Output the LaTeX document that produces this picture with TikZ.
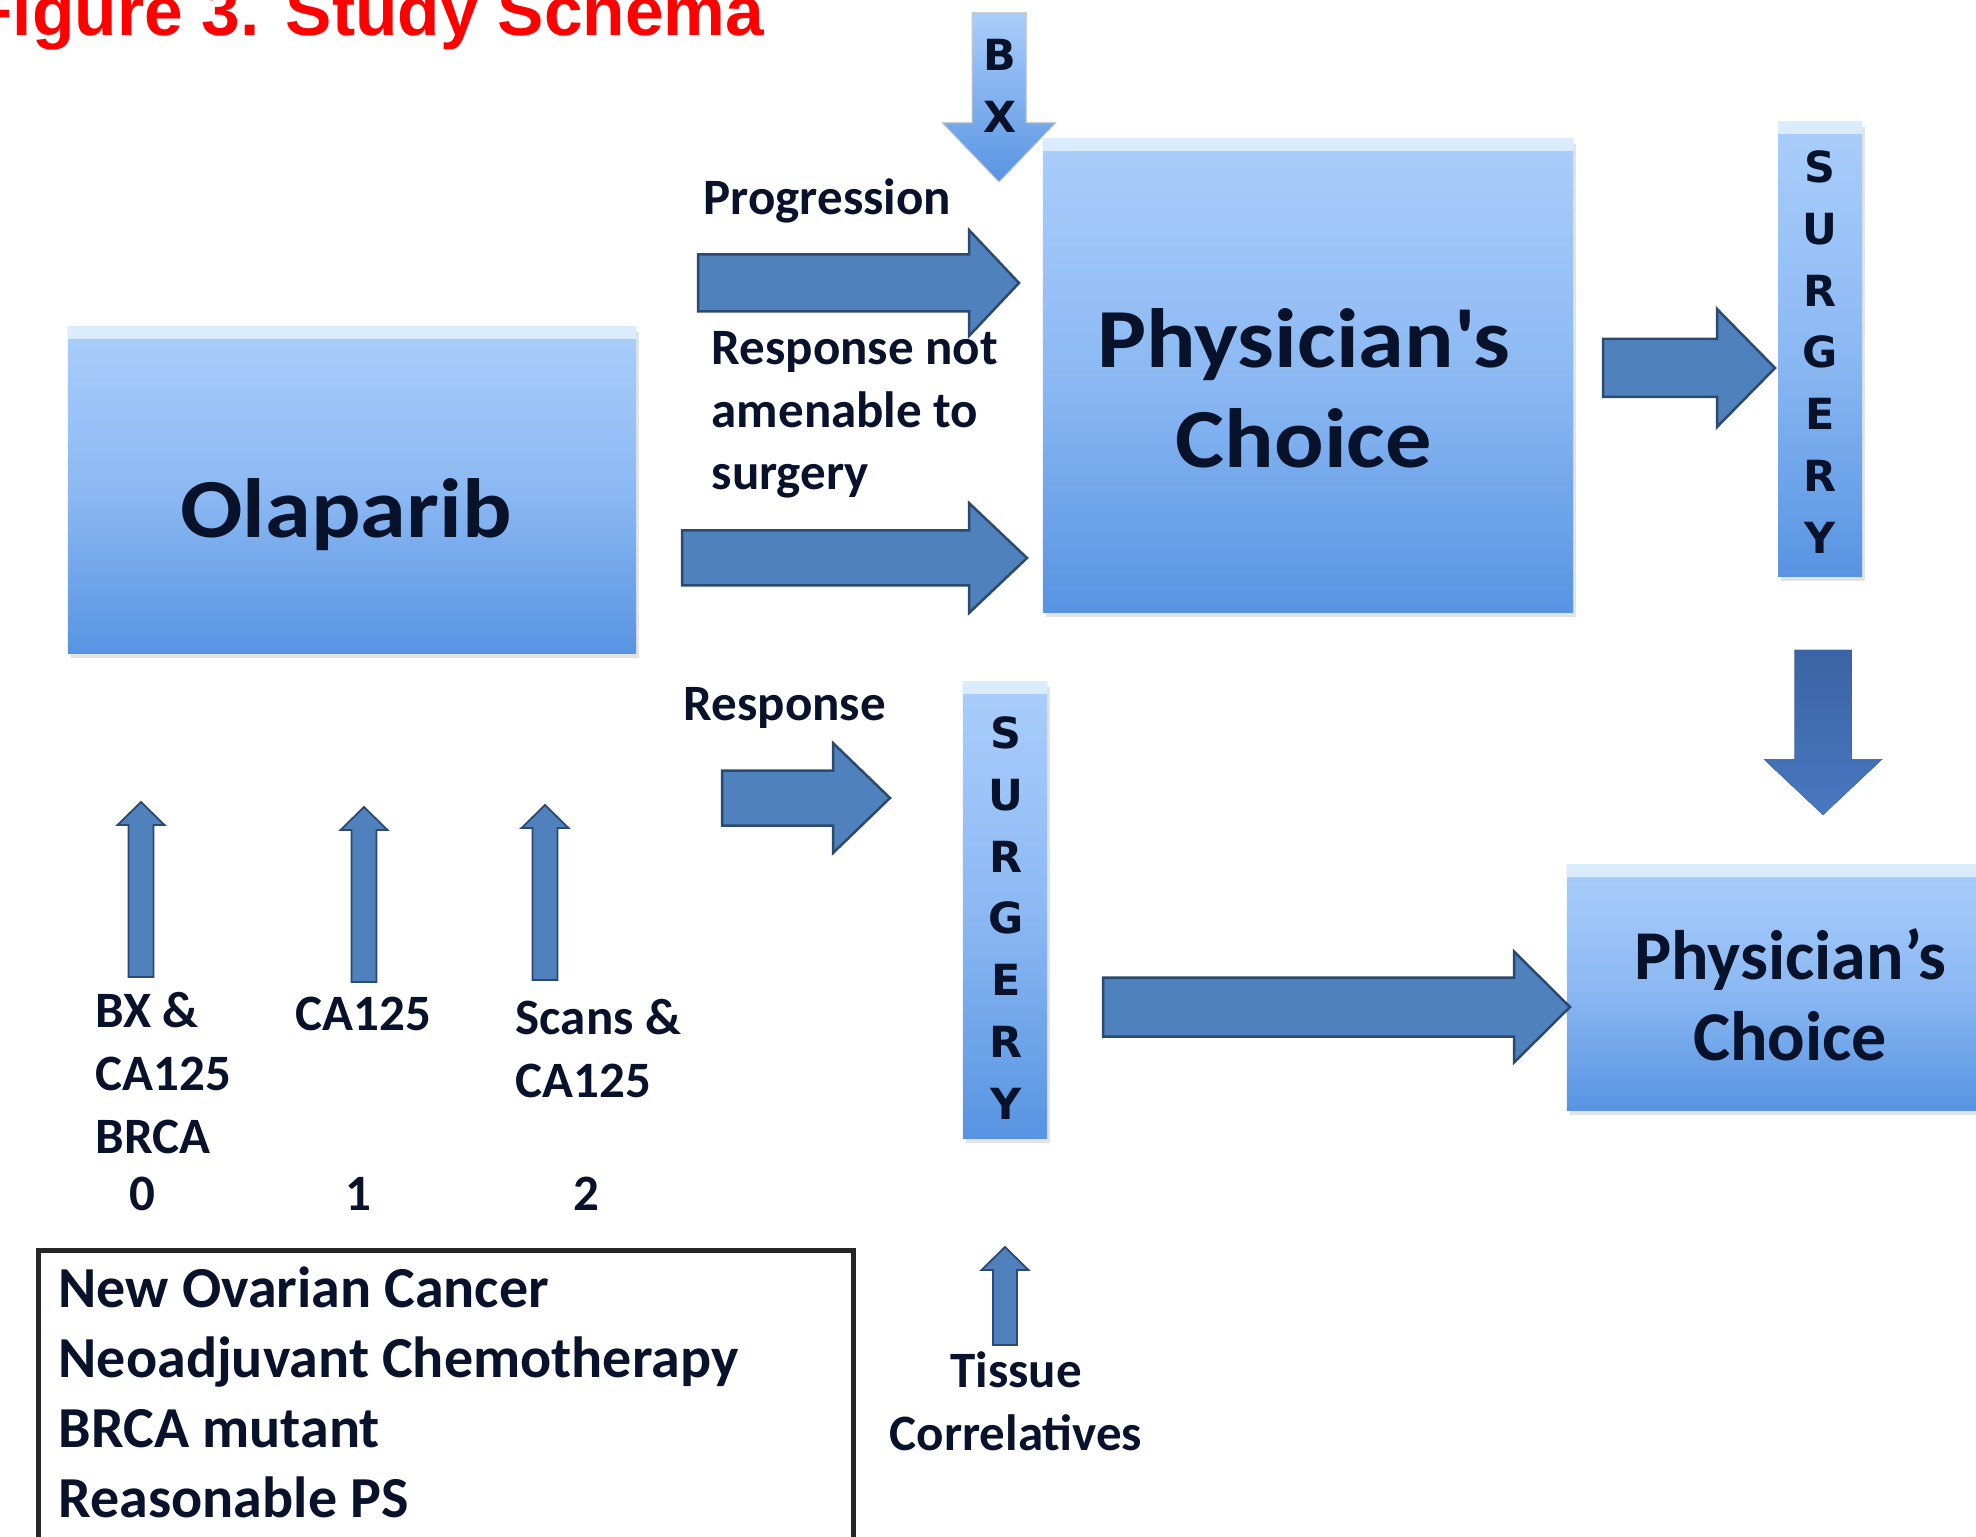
\documentclass[tikz,border=0pt]{standalone}
\usepackage{fontspec}
\setmainfont{Carlito}
\newfontfamily\bigfont{Carlito}[FakeStretch=1.1]
\newfontfamily\letterfont{DejaVu Sans}
\newfontfamily\titlefont{Liberation Sans}
\usetikzlibrary{shadows}
\definecolor{boxtop}{RGB}{170,206,251}
\definecolor{boxmid}{RGB}{140,185,243}
\definecolor{boxbot}{RGB}{88,148,226}
\definecolor{boxhi}{RGB}{218,236,253}
\definecolor{arrfill}{RGB}{79,129,189}
\definecolor{arrline}{RGB}{44,74,112}
\definecolor{darktop}{RGB}{58,100,165}
\definecolor{darkbot}{RGB}{72,120,192}
\definecolor{txt}{RGB}{8,18,42}
% horizontal block arrow: tail x, tip x, y, shaft half width, head half width, head length
\newcommand\harr[7][blockarrow]{%
  \filldraw[#1] ({#2},{#4-#5}) -- ({#3-#7},{#4-#5}) -- ({#3-#7},{#4-#6}) -- ({#3},{#4})
    -- ({#3-#7},{#4+#6}) -- ({#3-#7},{#4+#5}) -- ({#2},{#4+#5}) -- cycle;}
% vertical block arrow: x, tail y, tip y, shaft half width, head half width, signed head length
\newcommand\varr[7][blockarrow]{%
  \filldraw[#1] ({#2-#5},{#3}) -- ({#2-#5},{#4+(#7)}) -- ({#2-#6},{#4+(#7)}) -- ({#2},{#4})
    -- ({#2+#6},{#4+(#7)}) -- ({#2+#5},{#4+(#7)}) -- ({#2+#5},{#3}) -- cycle;}
\begin{document}
\begin{tikzpicture}[x=0.01cm,y=-0.01cm,
  bluebox/.style={rectangle, inner sep=0pt, top color=boxtop, bottom color=boxbot, middle color=boxmid,
    drop shadow={opacity=0.22, shadow xshift=0.03cm, shadow yshift=-0.05cm},
    path picture={\fill[top color=boxhi, bottom color=boxtop]
      (path picture bounding box.north west) rectangle ([yshift=-0.12cm]path picture bounding box.north east);}},
  blockarrow/.style={fill=arrfill, draw=arrline, line width=0.025cm, line join=miter},
  smallarrow/.style={fill=arrfill, draw=arrline, line width=0.018cm},
  darkarrow/.style={top color=darktop, bottom color=darkbot, draw=none},
  bxarrow/.style={top color=boxtop, bottom color=boxbot, draw=gray!45, line width=0.01cm},
  lbl/.style={inner sep=0pt, anchor=base west, align=left, text=txt,
    font=\bfseries\fontsize{14.5}{17.8}\selectfont},
  bigtxt/.style={inner sep=0pt, anchor=base, align=center, text=txt,
    font=\bigfont\bfseries\fontsize{23.9}{28.45}\selectfont},
  pctxt/.style={inner sep=0pt, anchor=base, align=center, text=txt,
    font=\bfseries\fontsize{19.9}{22.8}\selectfont},
  vletters/.style={inner sep=0pt, align=center, text=txt,
    font=\letterfont\bfseries\fontsize{12.2}{17.6}\selectfont},
  inclbox/.style={draw=black!85, line width=0.045cm, fill=white, inner sep=0pt,
    drop shadow={opacity=0.2, shadow xshift=0.02cm, shadow yshift=-0.03cm}},
  incltxt/.style={inner sep=0pt, anchor=base west, align=left, text=txt,
    font=\bfseries\fontsize{16.5}{19.9}\selectfont}]
\useasboundingbox (0,0) rectangle (1976,1537);
\clip (0,0) rectangle (1976,1537);
\fill[white] (0,0) rectangle (1976,1537);

% title
\node[anchor=base east, inner sep=0pt, text=red,
  font=\titlefont\bfseries\fontsize{19.75}{24}\selectfont] (title) at (765,36) {Figure 3. Study Schema};

% boxes (multi-line text nodes are anchored at the baseline of their last line)
\node[bluebox, minimum width=5.68cm, minimum height=3.26cm] (ola) at (352,490) {};
\node[bigtxt] (olatxt) at (346,538) {Olaparib};

\node[bluebox, minimum width=5.30cm, minimum height=4.73cm] (pc1) at (1308,375.5) {};
\node[bigtxt] (pc1txt) at (1304,468) {Physician\textquotesingle s\\Choice};

\node[bluebox, minimum width=4.43cm, minimum height=2.45cm] (pc2) at (1788.5,987.5) {};
\node[pctxt] (pc2txt) at (1790,1060) {Physician’s\\Choice};

\node[bluebox, minimum width=0.84cm, minimum height=4.54cm] (surg1) at (1820,349) {};
\node[vletters] (surg1txt) at (1820,352) {S\\U\\R\\G\\E\\R\\Y};

\node[bluebox, minimum width=0.84cm, minimum height=4.56cm] (surg2) at (1005,910) {};
\node[vletters] (surg2txt) at (1006,918) {S\\U\\R\\G\\E\\R\\Y};

% block arrows
\varr[bxarrow]{999}{13}{182}{27}{56.5}{-59}
\node[vletters] (bxtxt) at (1000,86) {B\\X};
\harr{698}{1019}{283}{28.5}{53}{50}
\harr{682}{1027}{558}{27.5}{55}{58}
\harr{1603}{1775}{368}{29}{59}{58}
\varr[darkarrow]{1823}{650}{815}{28.5}{59.5}{-56}
\harr{722}{890}{798}{27.5}{55}{57}
\harr{1103}{1570}{1007}{29.5}{55.5}{56}

% small arrows
\varr[smallarrow]{141}{977}{802}{12.5}{23.5}{23}
\varr[smallarrow]{364}{982}{807}{12.5}{23.5}{23}
\varr[smallarrow]{545}{980}{805}{12.5}{23.5}{23}
\varr[smallarrow]{1005}{1345}{1247}{12}{23.5}{23}

% labels
\node[lbl] (prog) at (703,215) {Progression};
\node[lbl] (rna) at (711,490) {Response not\\amenable to\\surgery};
\node[lbl] (resp) at (683,720) {Response};
\node[lbl] (l0) at (95,1153) {BX \&\\CA125\\BRCA};
\node[lbl] (l1) at (295,1030) {CA125};
\node[lbl] (l2) at (515,1097) {Scans \&\\CA125};
\node[lbl, anchor=base] (n0) at (142,1210) {0};
\node[lbl, anchor=base] (n1) at (358,1210) {1};
\node[lbl, anchor=base] (n2) at (586,1210) {2};
\node[lbl, anchor=base, align=center] (tis) at (1016,1450) {Tissue\\Correlatives};

% inclusion box
\node[inclbox, minimum width=8.15cm, minimum height=3.2cm, anchor=north west] (incl) at (36,1248) {};
\node[incltxt] (incltxt) at (58,1517) {New Ovarian Cancer\\Neoadjuvant Chemotherapy\\BRCA mutant\\Reasonable PS};
\end{tikzpicture}
\end{document}
